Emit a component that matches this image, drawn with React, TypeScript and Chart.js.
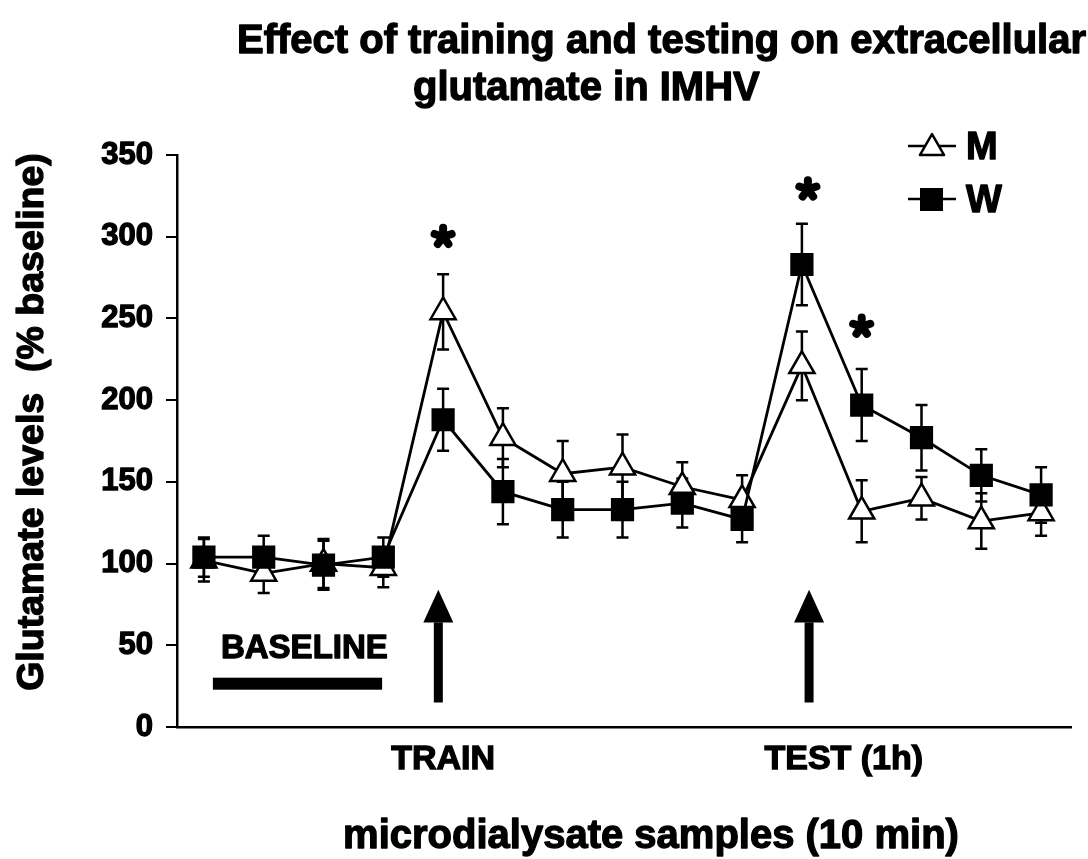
import React, { useEffect, useRef } from 'react';
import { Chart, registerables } from 'chart.js';

Chart.register(...registerables);

const FONT = '"Liberation Sans", Arial, Helvetica, sans-serif';

// ---- data ----
const samples = [1, 2, 3, 4, 5, 6, 7, 8, 9, 10, 11, 12, 13, 14, 15];
const mValues = [102, 94, 100, 97.5, 254, 177, 155, 159, 147, 139, 221, 132, 140, 126, 131];
const mErrors = [13, 12, 15, 12, 23, 18, 20, 20, 15, 15, 21, 19, 13, 17, 14];
const wValues = [104, 104, 99, 104, 188, 144, 133, 133, 137, 127, 283, 197, 177, 154, 142];
const wErrors = [12, 13, 15, 12, 19, 20, 17, 17, 15, 14, 25, 22, 20, 16, 17];

const seriesNames = ['M', 'W'];
const yTickStep = 50;
const yMin = 0;
const yMax = 350;
const xMin = 0.55;
const xMax = 15.5;

const xTickPositions = [5, 11.7];
const xTickLabels = ['TRAIN', 'TEST (1h)'];

const arrowX = [4.92, 11.12];
const arrowRange = [15, 64, 84]; // shaft bottom, head base, tip (y values)

const starX = [5, 11.1, 12];
const starY = [300, 329, 245];

const baselineBarX = [1.15, 3.98];
const baselineBarY = 26.5;
const baselineLabel = 'BASELINE';
const baselineLabelX = 2.68;
const baselineLabelY = 48;

const titleLines = ['Effect of training and testing on extracellular', 'glutamate in IMHV'];
const yTitle = 'Glutamate levels  (% baseline)';
const xTitle = 'microdialysate samples (10 min)';

const STROKE = 1.3;

function heavyText(ctx: CanvasRenderingContext2D, text: string, x: number, y: number) {
  ctx.fillText(text, x, y);
  ctx.strokeText(text, x, y);
}

function drawStar(ctx: CanvasRenderingContext2D, cx: number, cy: number) {
  ctx.save();
  ctx.strokeStyle = '#000';
  ctx.lineWidth = 8;
  ctx.lineCap = 'round';
  for (let k = 0; k < 5; k++) {
    const a = -Math.PI / 2 + (k * 2 * Math.PI) / 5;
    ctx.beginPath();
    ctx.moveTo(cx, cy);
    ctx.lineTo(cx + Math.cos(a) * 9, cy + Math.sin(a) * 9);
    ctx.stroke();
  }
  ctx.restore();
}

const annotPlugin = {
  id: 'annot',
  beforeDatasetsDraw(chart: any) {
    const { ctx, scales } = chart;
    const x = scales.x;
    const y = scales.y;
    ctx.save();
    ctx.strokeStyle = '#000';
    ctx.lineWidth = 2.5;
    const drawErr = (vals: number[], errs: number[]) => {
      vals.forEach((v, i) => {
        const px = x.getPixelForValue(samples[i]);
        const top = y.getPixelForValue(v + errs[i]);
        const bot = y.getPixelForValue(v - errs[i]);
        ctx.beginPath();
        ctx.moveTo(px, top);
        ctx.lineTo(px, bot);
        ctx.moveTo(px - 6, top);
        ctx.lineTo(px + 6, top);
        ctx.moveTo(px - 6, bot);
        ctx.lineTo(px + 6, bot);
        ctx.stroke();
      });
    };
    drawErr(mValues, mErrors);
    drawErr(wValues, wErrors);
    ctx.restore();
  },
  afterDraw(chart: any) {
    const { ctx, scales } = chart;
    const x = scales.x;
    const y = scales.y;
    ctx.save();
    ctx.fillStyle = '#000';
    ctx.strokeStyle = '#000';
    ctx.lineWidth = STROKE;
    ctx.lineJoin = 'round';

    // title
    ctx.font = `bold 40px ${FONT}`;
    ctx.textAlign = 'left';
    ctx.textBaseline = 'alphabetic';
    heavyText(ctx, titleLines[0], 237, 53);
    heavyText(ctx, titleLines[1], 413, 100);

    // y title
    ctx.save();
    ctx.translate(33, 422);
    ctx.rotate(-Math.PI / 2);
    ctx.font = `bold 37.5px ${FONT}`;
    ctx.textAlign = 'center';
    ctx.textBaseline = 'middle';
    heavyText(ctx, yTitle, 0, 0);
    ctx.restore();

    // x title
    ctx.font = `bold 40px ${FONT}`;
    ctx.textAlign = 'center';
    ctx.textBaseline = 'alphabetic';
    heavyText(ctx, xTitle, 651, 848);

    // arrows
    arrowX.forEach((ax) => {
      const px = x.getPixelForValue(ax);
      const yb = y.getPixelForValue(arrowRange[0]);
      const yh = y.getPixelForValue(arrowRange[1]);
      const yt = y.getPixelForValue(arrowRange[2]);
      ctx.fillRect(px - 4.5, yh, 9, yb - yh);
      ctx.beginPath();
      ctx.moveTo(px, yt);
      ctx.lineTo(px + 15, yh);
      ctx.lineTo(px - 15, yh);
      ctx.closePath();
      ctx.fill();
    });

    // significance stars
    starX.forEach((sx, i) => drawStar(ctx, x.getPixelForValue(sx), y.getPixelForValue(starY[i])));

    // baseline bar + label
    const bx0 = x.getPixelForValue(baselineBarX[0]);
    const bx1 = x.getPixelForValue(baselineBarX[1]);
    const by = y.getPixelForValue(baselineBarY);
    ctx.fillRect(bx0, by - 6, bx1 - bx0, 12);
    ctx.font = `bold 33px ${FONT}`;
    ctx.textAlign = 'center';
    ctx.textBaseline = 'middle';
    heavyText(ctx, baselineLabel, x.getPixelForValue(baselineLabelX), y.getPixelForValue(baselineLabelY));

    // legend
    const rows = [146, 199];
    rows.forEach((ry, i) => {
      ctx.lineWidth = 2.5;
      ctx.beginPath();
      ctx.moveTo(908, ry);
      ctx.lineTo(956, ry);
      ctx.stroke();
      if (i === 0) {
        const r = 14;
        const cy = ry + 2;
        ctx.beginPath();
        ctx.moveTo(932, cy - r);
        ctx.lineTo(932 + r * Math.sin(Math.PI / 3), cy + r / 2);
        ctx.lineTo(932 - r * Math.sin(Math.PI / 3), cy + r / 2);
        ctx.closePath();
        ctx.fillStyle = '#fff';
        ctx.fill();
        ctx.stroke();
      } else {
        ctx.fillStyle = '#000';
        ctx.fillRect(920, ry - 11, 23, 23);
      }
      ctx.fillStyle = '#000';
      ctx.lineWidth = STROKE;
      ctx.font = `bold 38px ${FONT}`;
      ctx.textAlign = 'left';
      ctx.textBaseline = 'middle';
      heavyText(ctx, seriesNames[i], 966, ry + 3);
    });

    ctx.restore();
  },
};

export default function App() {
  const ref = useRef<HTMLCanvasElement | null>(null);

  useEffect(() => {
    if (!ref.current) return;
    Chart.defaults.font.family = FONT;
    const chart = new Chart(ref.current, {
      type: 'line',
      data: {
        datasets: [
          {
            label: seriesNames[0],
            data: samples.map((s, i) => ({ x: s, y: mValues[i] })),
            borderColor: '#000',
            borderWidth: 2.8,
            pointStyle: 'triangle',
            pointRadius: 14.5,
            pointBackgroundColor: '#fff',
            pointBorderColor: '#000',
            pointBorderWidth: 2.5,
            tension: 0,
            order: 1,
          },
          {
            label: seriesNames[1],
            data: samples.map((s, i) => ({ x: s, y: wValues[i] })),
            borderColor: '#000',
            borderWidth: 2.8,
            pointStyle: 'rect',
            pointRadius: 15,
            pointBackgroundColor: '#000',
            pointBorderColor: '#000',
            pointBorderWidth: 2,
            tension: 0,
            order: 0,
          },
        ],
      },
      options: {
        responsive: false,
        animation: false,
        layout: { padding: { top: 155, right: 16, left: 0, bottom: 0 } },
        plugins: {
          legend: { display: false },
          title: { display: false },
          tooltip: { enabled: false },
        },
        scales: {
          x: {
            type: 'linear',
            min: xMin,
            max: xMax,
            afterBuildTicks: (s: any) => {
              s.ticks = xTickPositions.map((v) => ({ value: v }));
            },
            afterFit: (s: any) => {
              s.height = 132;
            },
            grid: { display: false, drawTicks: false },
            border: { display: true, color: '#000', width: 2.5 },
            ticks: {
              autoSkip: false,
              maxRotation: 0,
              padding: 12,
              color: '#000',
              textStrokeColor: '#000',
              textStrokeWidth: STROKE,
              font: { size: 34, weight: 'bold', family: FONT },
              callback: (_v: any, i: number) => xTickLabels[i],
            },
          },
          y: {
            min: yMin,
            max: yMax,
            afterFit: (s: any) => {
              s.width = 177;
            },
            grid: { drawOnChartArea: false, drawTicks: true, tickLength: 11, color: '#000', lineWidth: 2 },
            border: { display: true, color: '#000', width: 2.5 },
            ticks: {
              stepSize: yTickStep,
              padding: 13,
              color: '#000',
              textStrokeColor: '#000',
              textStrokeWidth: STROKE,
              font: { size: 31, weight: 'bold', family: FONT },
            },
          },
        },
      },
      plugins: [annotPlugin],
    } as any);
    return () => chart.destroy();
  }, []);

  return (
    <div style={{ position: 'fixed', left: 0, top: 0, width: 1088, height: 859, background: '#fff' }}>
      <canvas ref={ref} width={1088} height={859} />
    </div>
  );
}
